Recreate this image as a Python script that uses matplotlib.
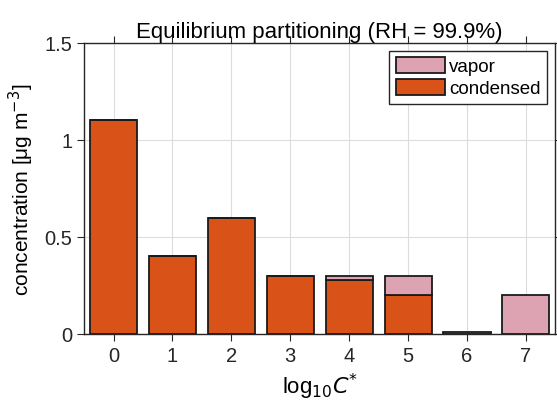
import matplotlib
matplotlib.use('Agg')
import matplotlib.pyplot as plt
import numpy as np

plt.rcParams['font.family'] = ['Liberation Sans', 'DejaVu Sans']

# log10 C* bins and concentrations (ug m^-3)
log_cstar = [0, 1, 2, 3, 4, 5, 6, 7]
condensed = [1.1, 0.4, 0.6, 0.3, 0.28, 0.2, 0.0, 0.0]
vapor = [0.0, 0.0, 0.0, 0.0, 0.02, 0.1, 0.01, 0.2]

col_cond = '#D95319'
col_vap = '#DEA3B2'

fig = plt.figure(figsize=(5.57, 4.1), dpi=100)
ax = fig.add_axes([0.151, 0.183, 0.846, 0.71])

x = np.array(log_cstar)
ax.bar(x, condensed, 0.8, color=col_cond, edgecolor='#1a1a1a', linewidth=1.3, label='condensed', zorder=3)
ax.bar(x, vapor, 0.8, bottom=condensed, color=col_vap, edgecolor='#1a1a1a', linewidth=1.3, label='vapor', zorder=3)

ax.set_xlim(-0.5, 7.5)
ax.set_ylim(0, 1.5)
ax.set_xticks(log_cstar)
ax.set_yticks([0, 0.5, 1, 1.5])
ax.set_yticklabels(['0', '0.5', '1', '1.5'])
ax.grid(True, color='#dcdcdc', linewidth=0.8, zorder=0)
ax.tick_params(direction='out', labelsize=14.5, colors='#262626', length=5,
               top=True, right=True, labeltop=False, labelright=False)
for s in ax.spines.values():
    s.set_color('#262626')
    s.set_linewidth(1.0)

ax.set_xlabel(r'log$_{\mathsf{10}}$$\it{C}$$^{*}$', fontsize=16, labelpad=4)
ax.set_ylabel('concentration [μg m$^{\\mathsf{-3}}$]', fontsize=15, labelpad=6)
ax.set_title('Equilibrium partitioning (RH = 99.9%)', fontsize=16, pad=4)

h, l = ax.get_legend_handles_labels()
ax.legend(h[::-1], l[::-1], loc='upper right', fontsize=13.5, fancybox=False,
          edgecolor='#262626', framealpha=1, handlelength=2.6, handleheight=0.9,
          borderpad=0.35, labelspacing=0.2, handletextpad=0.25,
          borderaxespad=0.3, bbox_to_anchor=(0.995, 0.993))

fig.savefig('out.png', dpi=100)
